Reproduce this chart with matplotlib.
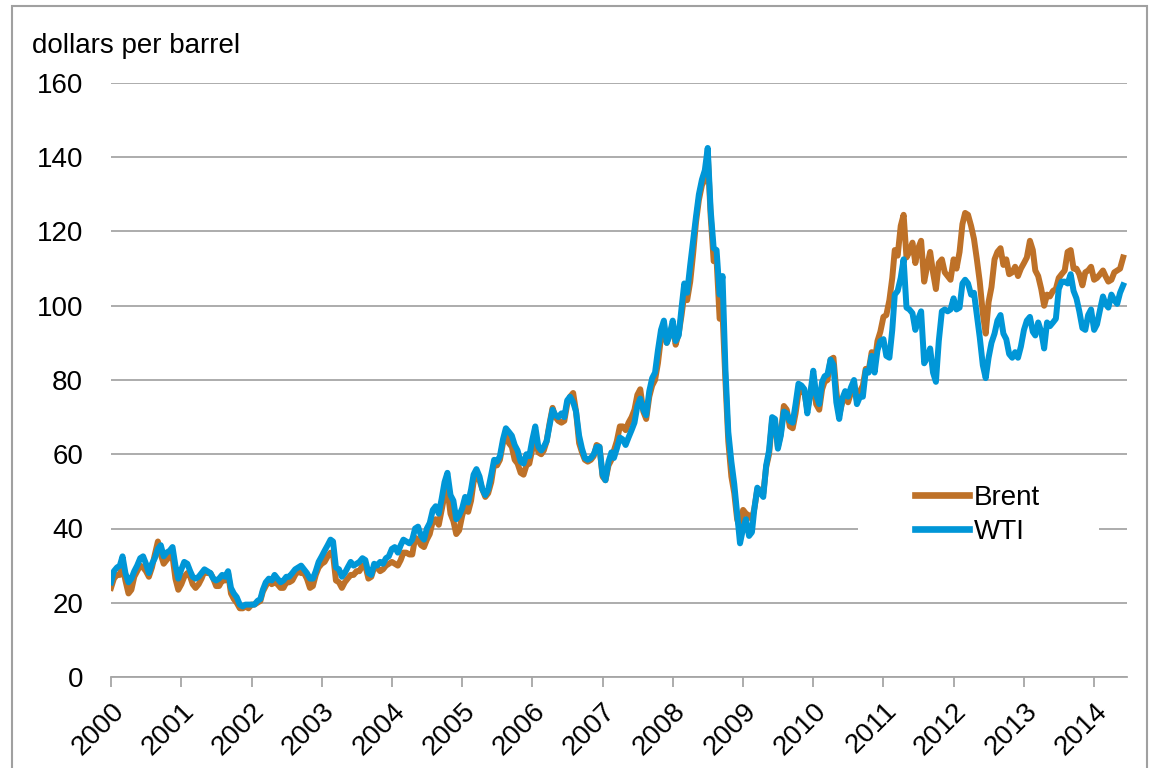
import datetime as dt
import matplotlib
matplotlib.use("Agg")
import matplotlib.pyplot as plt
import matplotlib.dates as mdates
from matplotlib.patches import Rectangle

# half-month spot prices, dollars per barrel (1st and 16th of each month)
brent = [
    24.0, 26.5, 27.5, 27.5, 30.0, 26.0, 22.5, 23.5, 27.0, 28.5, 30.0, 29.5,
    28.5, 27.0, 29.5, 33.0, 36.5, 33.0, 30.5, 31.5, 32.5, 32.5, 26.5, 23.5,  # 2000
    25.0, 27.0, 28.0, 27.0, 25.0, 24.0, 25.0, 26.5, 28.5, 28.0, 28.0, 26.5,
    24.5, 24.5, 26.0, 26.0, 28.0, 22.5, 21.0, 20.0, 18.5, 18.5, 19.0, 18.5,  # 2001
    19.5, 19.5, 20.0, 20.5, 23.0, 24.5, 26.0, 25.0, 25.5, 25.0, 24.0, 24.0,
    25.5, 25.5, 26.0, 27.5, 28.5, 28.0, 28.0, 26.5, 24.0, 24.5, 27.5, 29.5,  # 2002
    30.5, 31.0, 32.5, 33.5, 33.0, 26.0, 25.5, 24.0, 25.5, 26.5, 27.5, 27.5,
    28.5, 28.5, 30.0, 30.0, 26.5, 27.0, 29.5, 29.5, 28.5, 29.0, 30.0, 30.5,  # 2003
    31.0, 30.5, 30.0, 31.5, 33.5, 33.5, 33.0, 33.0, 37.5, 37.0, 35.5, 35.0,
    37.0, 38.5, 42.0, 42.5, 41.0, 45.0, 49.0, 50.5, 44.0, 42.0, 38.5, 39.5,  # 2004
    43.5, 46.0, 44.5, 47.5, 52.5, 54.5, 53.0, 50.5, 48.5, 49.5, 52.5, 57.5,
    57.0, 58.5, 63.0, 65.5, 63.0, 62.0, 58.5, 57.5, 55.0, 54.5, 57.0, 57.5,  # 2005
    61.5, 65.0, 60.5, 60.0, 61.0, 63.5, 68.5, 72.5, 70.0, 69.0, 68.5, 69.0,
    73.5, 75.5, 76.5, 71.5, 63.0, 60.5, 58.5, 58.0, 58.5, 59.5, 62.5, 62.0,  # 2006
    54.0, 53.0, 57.0, 58.5, 61.0, 63.5, 67.5, 67.5, 66.5, 68.5, 70.0, 72.0,
    76.0, 77.5, 71.5, 69.5, 75.5, 78.5, 80.0, 84.5, 91.5, 93.5, 90.0, 92.5,  # 2007
    95.0, 89.5, 92.5, 97.5, 103.0, 101.5, 106.5, 114.0, 122.5, 128.5, 132.5, 134.0,
    141.0, 124.5, 112.0, 112.5, 96.5, 98.0, 80.0, 63.5, 54.0, 49.5, 42.5, 40.0,  # 2008
    45.0, 44.0, 43.5, 42.5, 45.5, 50.5, 50.5, 49.5, 56.5, 60.0, 69.0, 68.5,
    62.0, 65.5, 73.0, 72.0, 67.5, 67.0, 71.0, 76.5, 77.0, 76.5, 72.0, 76.0,  # 2009
    80.5, 73.5, 72.0, 77.5, 79.5, 80.0, 85.5, 86.0, 77.0, 70.5, 74.0, 76.0,
    74.0, 76.5, 79.0, 74.5, 77.0, 78.5, 83.0, 82.5, 87.5, 84.5, 90.5, 93.0,  # 2010
    97.0, 97.5, 101.5, 107.5, 115.0, 113.5, 121.5, 124.5, 113.0, 114.5, 117.0, 111.5,
    115.5, 117.5, 106.5, 110.5, 114.5, 109.0, 104.5, 111.5, 112.5, 109.0, 108.0, 107.0,  # 2011
    112.5, 110.0, 114.5, 122.0, 125.0, 124.5, 121.5, 118.0, 112.5, 106.5, 98.0, 92.5,
    101.0, 105.0, 112.5, 114.5, 115.5, 111.0, 112.5, 108.5, 109.0, 110.5, 108.0, 110.0,  # 2012
    111.5, 113.0, 117.5, 115.0, 109.5, 108.0, 104.5, 100.0, 103.0, 102.5, 104.0, 104.5,
    107.5, 108.5, 109.5, 114.5, 115.0, 110.0, 110.0, 108.5, 105.5, 109.0, 109.5, 110.5,  # 2013
    107.0, 107.5, 108.5, 109.5, 108.0, 106.5, 107.0, 109.0, 109.5, 110.0, 113.0,  # 2014
]

wti = [
    25.5, 28.5, 29.5, 30.0, 32.5, 28.0, 25.5, 26.5, 28.5, 30.0, 32.0, 32.5,
    30.5, 28.0, 30.5, 32.0, 34.5, 35.5, 32.5, 33.5, 34.0, 35.0, 30.0, 26.5,  # 2000
    29.0, 31.0, 30.5, 28.5, 27.0, 26.5, 27.0, 28.0, 29.0, 28.5, 28.0, 26.5,
    26.0, 26.5, 27.5, 27.0, 28.5, 24.0, 22.5, 21.5, 19.5, 19.0, 19.5, 19.5,  # 2001
    19.5, 19.5, 20.5, 21.0, 23.5, 25.5, 26.5, 26.0, 27.5, 26.5, 25.5, 26.0,
    27.0, 27.0, 28.0, 29.0, 29.5, 30.0, 29.0, 28.0, 26.5, 26.5, 28.5, 31.0,  # 2002
    32.5, 34.0, 35.5, 37.0, 36.5, 29.5, 29.0, 27.0, 28.0, 29.5, 31.0, 30.0,
    30.5, 31.0, 32.0, 31.5, 28.0, 27.5, 30.5, 30.0, 31.0, 30.5, 32.0, 32.5,  # 2003
    34.5, 35.0, 33.5, 35.5, 37.0, 36.5, 36.0, 37.0, 40.0, 40.5, 38.0, 37.0,
    40.0, 41.5, 45.0, 46.0, 44.0, 48.0, 52.5, 55.0, 49.0, 47.5, 42.5, 43.5,  # 2004
    45.5, 48.5, 47.0, 50.5, 54.5, 56.0, 54.0, 50.5, 49.0, 50.5, 54.5, 58.5,
    58.0, 59.5, 64.0, 67.0, 66.0, 65.0, 62.5, 61.0, 58.0, 57.5, 60.0, 59.5,  # 2005
    64.0, 67.5, 62.0, 61.0, 62.0, 63.5, 68.0, 72.0, 70.5, 70.0, 71.0, 70.0,
    74.5, 75.5, 74.0, 71.5, 65.0, 61.5, 59.0, 58.5, 59.0, 60.0, 62.0, 62.0,  # 2006
    54.5, 53.0, 58.0, 60.5, 59.0, 61.5, 64.5, 64.0, 62.5, 64.5, 66.5, 68.5,
    73.0, 75.0, 72.0, 70.5, 77.0, 80.5, 82.0, 88.0, 93.5, 96.0, 90.0, 92.0,  # 2007
    96.0, 90.5, 92.0, 99.5, 106.0, 103.5, 111.0, 117.5, 124.0, 130.0, 134.0, 136.5,
    142.5, 126.0, 115.5, 115.0, 103.0, 108.0, 83.0, 66.0, 58.0, 52.0, 44.0, 36.0,  # 2008
    40.0, 42.5, 38.0, 39.0, 45.5, 51.0, 49.5, 48.5, 57.0, 61.0, 70.0, 69.5,
    61.5, 65.0, 71.5, 71.0, 69.0, 68.5, 73.5, 79.0, 78.5, 77.5, 71.0, 76.0,  # 2009
    82.5, 76.0, 73.5, 79.5, 81.0, 81.5, 85.5, 84.0, 74.0, 69.5, 75.0, 77.0,
    75.5, 78.0, 80.0, 73.5, 75.5, 75.5, 82.5, 82.0, 86.5, 82.0, 88.0, 90.5,  # 2010
    91.0, 86.5, 86.0, 93.5, 103.0, 104.0, 107.5, 112.5, 99.5, 99.0, 98.0, 93.5,
    96.5, 98.5, 84.5, 86.0, 88.5, 82.0, 79.5, 90.5, 98.5, 99.0, 98.5, 99.0,  # 2011
    102.0, 99.0, 99.5, 106.0, 107.0, 106.0, 103.0, 103.5, 97.5, 91.5, 84.0, 80.5,
    86.0, 90.0, 92.5, 96.0, 97.5, 92.5, 91.0, 87.0, 86.0, 87.5, 86.0, 89.0,  # 2012
    93.5, 96.0, 97.0, 93.0, 92.0, 95.5, 93.0, 88.5, 95.5, 94.5, 95.5, 96.5,
    104.5, 106.5, 106.5, 106.0, 108.5, 104.0, 102.0, 98.5, 94.0, 93.5, 97.5, 99.0,  # 2013
    93.5, 95.0, 99.0, 102.5, 100.5, 99.5, 103.0, 101.5, 100.5, 103.5, 105.5,  # 2014
]

dates = [dt.date(2000 + i // 24, (i % 24) // 2 + 1, 1 if i % 2 == 0 else 16)
         for i in range(len(wti))]

brent_color = "#BE7128"
wti_color = "#0096D7"
grid_color = "#A6A6A6"

plt.rcParams["font.family"] = ["Liberation Sans", "DejaVu Sans"]

fig = plt.figure(figsize=(11.5, 7.68), dpi=100)
ax = fig.add_axes([111 / 1150, 1 - 677 / 768, 1016 / 1150, 594 / 768])

ax.plot(dates, brent, color=brent_color, lw=4.3, solid_joinstyle="round", label="Brent", zorder=3)
ax.plot(dates, wti, color=wti_color, lw=4.3, solid_joinstyle="round", label="WTI", zorder=4)

ax.set_ylim(0, 160)
ax.set_yticks(range(0, 161, 20))
ax.set_xlim(dt.date(2000, 1, 1), dt.date(2014, 6, 21))
ax.xaxis.set_major_locator(mdates.YearLocator())
ax.xaxis.set_major_formatter(mdates.DateFormatter("%Y"))

ax.grid(axis="y", color=grid_color, lw=1.3)
ax.set_axisbelow(True)
for s in ["left", "right", "top"]:
    ax.spines[s].set_visible(False)
ax.spines["bottom"].set_color(grid_color)
ax.spines["bottom"].set_linewidth(1.3)

ax.tick_params(axis="y", length=0, pad=20, labelsize=20)
ax.tick_params(axis="x", direction="out", length=7, width=1.3, color=grid_color, pad=8, labelsize=20)
plt.setp(ax.get_xticklabels(), rotation=45, ha="right", rotation_mode="anchor")

# white patch that breaks the gridline behind the legend
ax.add_patch(Rectangle(((858 - 111) / 1016, (677 - 545) / 594), (1099 - 858) / 1016, 35 / 594,
                       transform=ax.transAxes, facecolor="white", edgecolor="none", zorder=1))

leg = ax.legend(loc="upper left", bbox_to_anchor=(915 / 1150, 1 - 485 / 768),
                bbox_transform=fig.transFigure, frameon=False, fontsize=20,
                handlelength=1.95, handletextpad=0.18, labelspacing=0.28, borderpad=0,
                borderaxespad=0)
for line in leg.get_lines():
    line.set_linewidth(4.8)

fig.text(32 / 1150, 1 - 46 / 768, "dollars per barrel", fontsize=20, va="center", ha="left")

# light frame around the whole picture
fig.patches.append(Rectangle((12 / 1150, -0.01), 1135 / 1150, 1 - 6 / 768 + 0.01,
                             transform=fig.transFigure, fill=False, edgecolor="#A0A0A0", lw=1.5))

fig.savefig("out.png", dpi=100)
